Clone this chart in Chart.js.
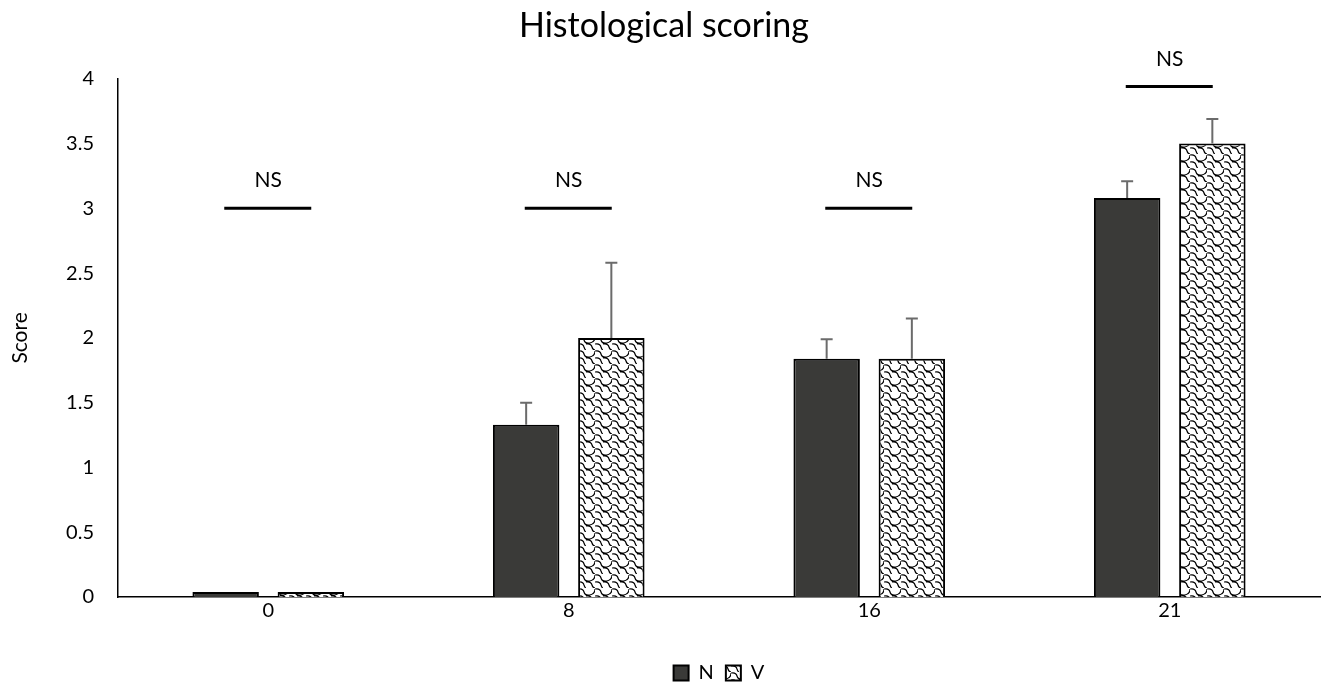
<!DOCTYPE html>
<html>
<head>
<meta charset="utf-8">
<script src="https://cdn.jsdelivr.net/npm/chart.js@4.4.1/dist/chart.umd.min.js"></script>
<style>
  body { margin: 0; background: #fff; }
  #wrap { width: 1325px; height: 695px; }
</style>
</head>
<body>
<div id="wrap"><canvas id="grafico" width="1325" height="695"></canvas></div>
<script>
const categories = ["0", "8", "16", "21"];
const nValues = [0, 1.33, 1.84, 3.08];
const vValues = [0, 2.0, 1.84, 3.5];
const nErrors = [0, 0.17, 0.15, 0.13];
const vErrors = [0, 0.58, 0.31, 0.19];
const nsLevels = [3, 3, 3, 3.94];
const nsLabels = ["NS", "NS", "NS", "NS"];
const yTicks = [0, 0.5, 1, 1.5, 2, 2.5, 3, 3.5, 4];

// weave-like fill for the V series
function criarPadrao() {
  const c = document.createElement("canvas");
  c.width = 17;
  c.height = 14;
  const ctx = c.getContext("2d");
  ctx.fillStyle = "#fff";
  ctx.fillRect(0, 0, 17, 14);
  ctx.strokeStyle = "#000";
  ctx.lineWidth = 1.2;
  ctx.beginPath();
  ctx.moveTo(0, 1);
  ctx.quadraticCurveTo(5, 0, 6, 4);
  ctx.quadraticCurveTo(7, 8, 12, 7);
  ctx.quadraticCurveTo(17, 6, 17, 1);
  ctx.moveTo(8, 8);
  ctx.quadraticCurveTo(13, 7, 14, 11);
  ctx.quadraticCurveTo(15, 15, 20, 14);
  ctx.moveTo(0, 8);
  ctx.quadraticCurveTo(5, 7, 6, 11);
  ctx.quadraticCurveTo(7, 14, 8, 14);
  ctx.stroke();
  return ctx.createPattern(c, "repeat");
}

const padraoV = criarPadrao();

const barrasErro = {
  id: "barrasErro",
  afterDatasetsDraw(chart) {
    const ctx = chart.ctx;
    const y = chart.scales.y;
    const erros = [nErrors, vErrors];
    const valores = [nValues, vValues];
    ctx.save();
    ctx.strokeStyle = "#6b6b6b";
    ctx.lineWidth = 2;
    erros.forEach((lista, d) => {
      const meta = chart.getDatasetMeta(d);
      lista.forEach((e, i) => {
        if (!e) return;
        const x = meta.data[i].x;
        const y0 = y.getPixelForValue(valores[d][i]);
        const y1 = y.getPixelForValue(valores[d][i] + e);
        ctx.beginPath();
        ctx.moveTo(x, y0);
        ctx.lineTo(x, y1);
        ctx.moveTo(x - 6, y1);
        ctx.lineTo(x + 6, y1);
        ctx.stroke();
      });
    });
    ctx.restore();
  }
};

const marcasNS = {
  id: "marcasNS",
  afterDraw(chart) {
    const ctx = chart.ctx;
    const x = chart.scales.x;
    const y = chart.scales.y;
    ctx.save();
    ctx.strokeStyle = "#000";
    ctx.lineWidth = 3;
    ctx.fillStyle = "#000";
    ctx.font = "21px Lato";
    ctx.textAlign = "center";
    ctx.textBaseline = "alphabetic";
    nsLevels.forEach((nivel, i) => {
      const cx = x.getPixelForValue(i);
      const py = y.getPixelForValue(nivel);
      ctx.beginPath();
      ctx.moveTo(cx - 44, py);
      ctx.lineTo(cx + 43, py);
      ctx.stroke();
      ctx.fillText(nsLabels[i], cx, py - 21);
    });
    ctx.restore();
  }
};

new Chart(document.getElementById("grafico"), {
  type: "bar",
  data: {
    labels: categories,
    datasets: [
      {
        label: "N",
        data: nValues,
        backgroundColor: "#3a3a38",
        borderColor: "#000",
        borderWidth: 2,
        minBarLength: 5,
        categoryPercentage: 0.567,
        barPercentage: 0.78
      },
      {
        label: "V",
        data: vValues,
        backgroundColor: padraoV,
        borderColor: "#000",
        borderWidth: 2,
        minBarLength: 5,
        categoryPercentage: 0.567,
        barPercentage: 0.78
      }
    ]
  },
  options: {
    responsive: false,
    animation: false,
    layout: { padding: { left: 8, right: 5, top: 0, bottom: 2 } },
    plugins: {
      title: {
        display: true,
        text: "Histological scoring",
        color: "#000",
        font: { family: "Lato", size: 34, weight: "normal" },
        padding: { top: 6, bottom: 32 }
      },
      legend: {
        position: "bottom",
        fullSize: false,
        labels: {
          color: "#000",
          font: { family: "Lato", size: 20 },
          boxWidth: 15,
          boxHeight: 15,
          padding: 12
        }
      },
      tooltip: { enabled: false }
    },
    scales: {
      x: {
        grid: { display: false, drawTicks: false },
        border: { display: true, color: "#000", width: 1.5 },
        ticks: { color: "#000", font: { family: "Lato", size: 20 }, padding: 2 },
        afterFit(scale) { scale.height = 54; }
      },
      y: {
        min: 0,
        max: 4,
        afterBuildTicks(scale) { scale.ticks = yTicks.map(v => ({ value: v })); },
        grid: { display: false },
        border: { display: true, color: "#000", width: 1.5 },
        ticks: {
          color: "#000",
          font: { family: "Lato", size: 20 },
          padding: 16,
          callback: v => String(v)
        },
        title: {
          display: true,
          text: "Score",
          color: "#000",
          font: { family: "Lato", size: 21 },
          padding: { top: 0, bottom: 4 }
        },
        afterFit(scale) { scale.width = 110; }
      }
    }
  },
  plugins: [barrasErro, marcasNS]
});
</script>
</body>
</html>
